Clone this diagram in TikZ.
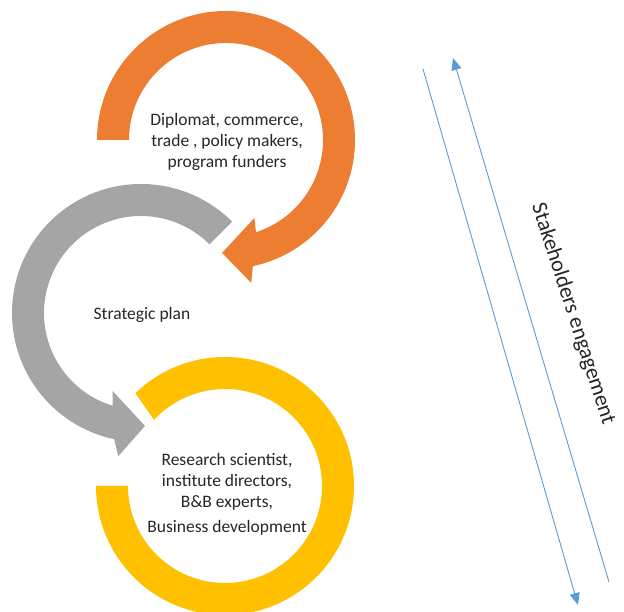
\documentclass[tikz,border=0pt]{standalone}
\usepackage{fontspec}
\setmainfont{Carlito}
\usetikzlibrary{arrows.meta}

\definecolor{ringorange}{HTML}{ED7D31}
\definecolor{ringgray}{HTML}{A5A5A5}
\definecolor{ringyellow}{HTML}{FFC000}
\definecolor{linkblue}{HTML}{5B9BD5}

\tikzset{
  ringtext/.style={align=center, font=\fontsize{17.5}{21}\selectfont, text=black!85},
  engage/.style={draw=linkblue, line width=0.9pt, -{Triangle[length=12pt,width=10pt]}},
}

\begin{document}
\begin{tikzpicture}[x=1pt,y=1pt]
	\useasboundingbox (0,0) rectangle (624,612);
	
	\coordinate (oc) at (226,472);
	\coordinate (gc) at (141,299);
	\coordinate (yc) at (225,126);
	
	% orange ring, clockwise
	\fill [ringorange] ([shift={(180:129)}]oc) arc [start angle=180, end angle=-78, radius=129]
		-- ([shift={(-80:145)}]oc) -- ([shift={(-92:113)}]oc) -- ([shift={(-70:83)}]oc)
		-- ([shift={(-72:97)}]oc) arc [start angle=-72, end angle=180, radius=97] -- cycle;
	
	% gray ring, counter clockwise
	\fill [ringgray] ([shift={(45:129)}]gc) arc [start angle=45, end angle=258, radius=129]
		-- ([shift={(261:145)}]gc) -- ([shift={(272:113)}]gc) -- ([shift={(250:83)}]gc)
		-- ([shift={(253:97)}]gc) arc [start angle=253, end angle=45, radius=97] -- cycle;
	
	% yellow ring, no head
	\fill [ringyellow] ([shift={(134:129)}]yc) arc [start angle=134, end angle=-180, radius=129]
		-- ([shift={(180:97)}]yc) arc [start angle=-180, end angle=137, radius=97] -- cycle;
	
	\node [ringtext] (diplomat) at (227,470) {Diplomat, commerce,\\trade , policy makers,\\program funders};
	\node [ringtext] (strategic) at (142,297) {Strategic plan};
	\node [ringtext] (research) at (227,118) {Research scientist,\\institute directors,\\B\&B experts,\\[4pt]Business development};
	
	\coordinate (down1) at (423,543);
	\coordinate (down2) at (578,7);
	\coordinate (up1) at (609,30);
	\coordinate (up2) at (453,554);
	\draw [engage] (down1) -- (down2);
	\draw [engage] (up1) -- (up2);
	
	\node [font=\fontsize{22}{26}\selectfont, text=black!85, rotate=-72] (stake) at (573,298) {Stakeholders engagement};
\end{tikzpicture}
\end{document}
